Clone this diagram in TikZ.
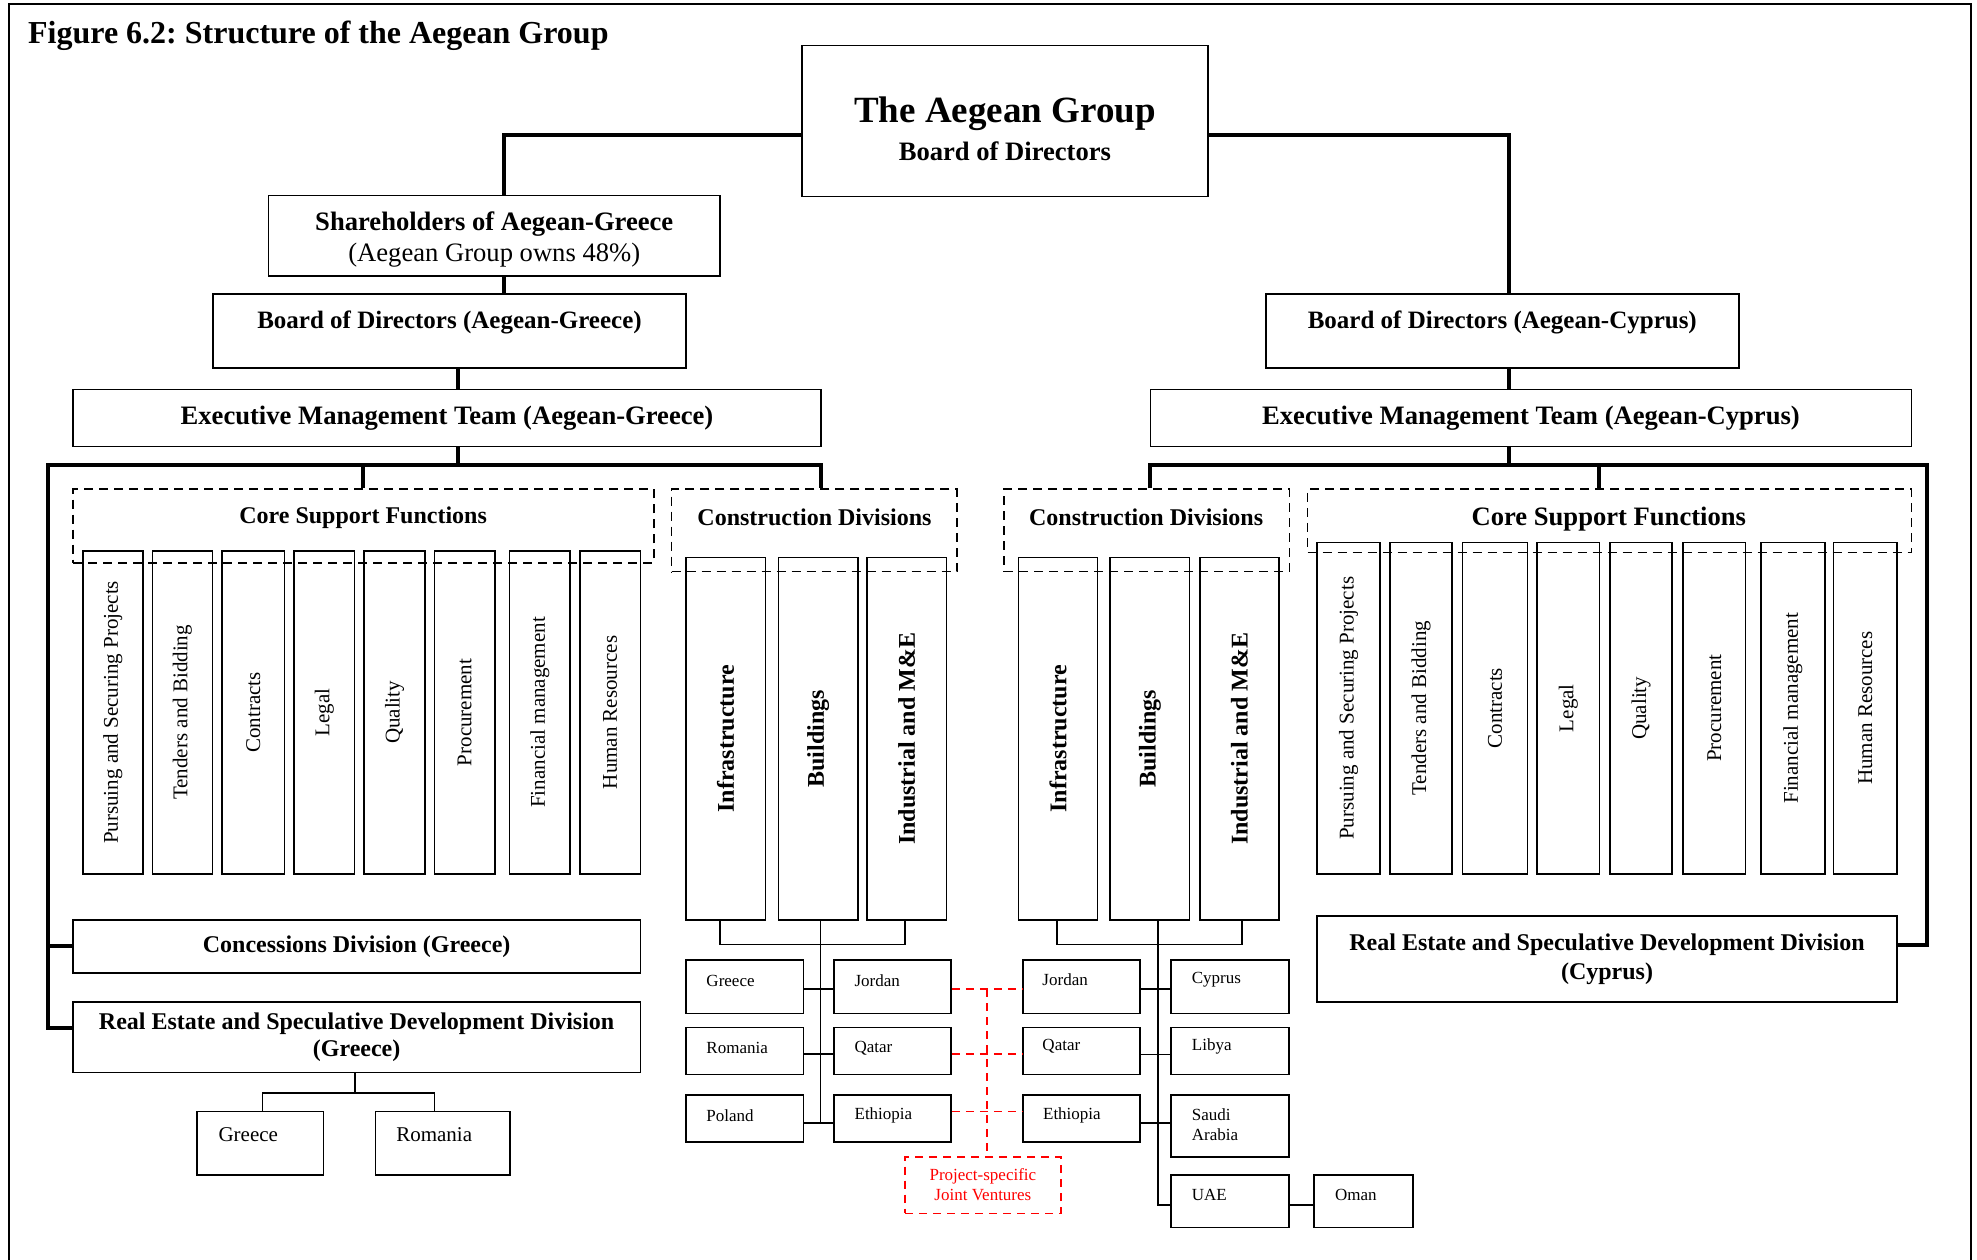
\documentclass[tikz,border=0pt]{standalone}
\usepackage{fontspec}
\setmainfont{Liberation Serif}
\usepackage{graphicx}
\frenchspacing
\newcommand\bx[7]{\node[#6, minimum width={(#4-#2)*0.6304pt}, minimum height={(#5-#3)*0.6304pt}] (#1) at ({(#2+#4)/2},{(#3+#5)/2}) {#7};}
\begin{document}
\begin{tikzpicture}[x=0.6304pt,y=-0.6304pt,
  box/.style={draw, line width=0.8pt, inner sep=0pt, align=center},
  dbox/.style={draw, line width=0.8pt, dash pattern=on 4.5pt off 3pt, inner sep=0pt},
  vbox/.style={box, font=\fontsize{10.5}{12}\selectfont},
  cbox/.style={box, font=\fontsize{12}{14}\selectfont\bfseries},
  jvbox/.style={draw=red, text=red, line width=0.8pt, dash pattern=on 4pt off 3pt, inner sep=0pt, align=center, font=\fontsize{8.5}{10}\selectfont},
  thk/.style={line width=2pt},
  thn/.style={line width=0.75pt},
  jvline/.style={red, line width=0.8pt, dash pattern=on 4pt off 3pt},
  ctxt/.style={anchor=west, inner sep=0pt, font=\fontsize{8.5}{10}\selectfont, align=left},
  stxt/.style={anchor=west, inner sep=0pt, font=\fontsize{10.5}{12}\selectfont},
  hd/.style={inner sep=0pt, font=\fontsize{12}{14}\selectfont\bfseries},
]
\useasboundingbox (0,0) rectangle (1568,999);
% frame
\draw[line width=1pt] (7,999) -- (7,3) -- (1563,3) -- (1563,999);

\node[anchor=west, inner sep=0pt, font=\fontsize{16}{19}\selectfont\bfseries] (title) at (22,28.5) {Figure 6.2: Structure of the Aegean Group};

% top
\bx{top}{636}{36}{958}{156}{box}{}
\node[inner sep=0pt, font=\fontsize{18.5}{22}\selectfont\bfseries] (topa) at (797,90) {The Aegean Group};
\node[inner sep=0pt, font=\fontsize{13.3}{16}\selectfont\bfseries] (topb) at (797,120) {Board of Directors};

% Greece side
\bx{sh}{213}{155}{571}{219}{box}{}
\node[inner sep=0pt, align=center, font=\fontsize{13.3}{15.1}\selectfont] (sht) at (392,190) {\textbf{Shareholders of Aegean-Greece}\\(Aegean Group owns 48\%)};
\bx{bgr}{169}{233}{544}{292}{box}{}
\node[inner sep=0pt, font=\fontsize{12.5}{15}\selectfont\bfseries] (bgrt) at (356.5,255.5) {Board of Directors (Aegean-Greece)};
\bx{emtgr}{58}{309}{651}{354}{box,font=\fontsize{13.3}{15}\selectfont\bfseries}{Executive Management Team (Aegean-Greece)}

% Cyprus side
\bx{bcy}{1004}{233}{1379}{292}{box}{}
\node[inner sep=0pt, font=\fontsize{12.5}{15}\selectfont\bfseries] (bcyt) at (1191.5,255.5) {Board of Directors (Aegean-Cyprus)};
\bx{emtcy}{912.5}{309}{1516}{354}{box,font=\fontsize{13.3}{15}\selectfont\bfseries}{Executive Management Team (Aegean-Cyprus)}

% dashed groups
\bx{csfL}{58}{388}{518.5}{446.3}{dbox}{}
\node[hd] (csfLt) at (288,410.5) {Core Support Functions};
\bx{cdL}{532.7}{388}{758.8}{453.4}{dbox}{}
\node[hd] (cdLt) at (646,410) {Construction Divisions};
\bx{cdR}{796.3}{388}{1022.6}{453.4}{dbox}{}
\node[hd] (cdRt) at (909,410) {Construction Divisions};
\bx{csfR}{1037}{388}{1516}{438.3}{dbox}{}
\node[inner sep=0pt, font=\fontsize{13.3}{15}\selectfont\bfseries] (csfRt) at (1276,412) {Core Support Functions};

% core support boxes left
\bx{sL1}{65.7}{437}{113.3}{693}{vbox}{\rotatebox{90}{Pursuing and Securing Projects}}
\bx{sL2}{120.9}{437}{168.5}{693}{vbox}{\rotatebox{90}{Tenders and Bidding}}
\bx{sL3}{176}{437}{225.6}{693}{vbox}{\rotatebox{90}{Contracts}}
\bx{sL4}{233.2}{437}{281.3}{693}{vbox}{\rotatebox{90}{Legal}}
\bx{sL5}{288.9}{437}{336.9}{693}{vbox}{\rotatebox{90}{Quality}}
\bx{sL6}{344.5}{437}{392.6}{693}{vbox}{\rotatebox{90}{Procurement}}
\bx{sL7}{404.2}{437}{452.2}{693}{vbox}{\rotatebox{90}{Financial management}}
\bx{sL8}{459.8}{437}{507.9}{693}{vbox}{\rotatebox{90}{Human Resources}}
% core support boxes right
\bx{sR1}{1044.6}{430.4}{1094.6}{693}{vbox}{\rotatebox{90}{Pursuing and Securing Projects}}
\bx{sR2}{1102.2}{430.4}{1151.8}{693}{vbox}{\rotatebox{90}{Tenders and Bidding}}
\bx{sR3}{1160}{430.4}{1211.5}{693}{vbox}{\rotatebox{90}{Contracts}}
\bx{sR4}{1219}{430.4}{1268.6}{693}{vbox}{\rotatebox{90}{Legal}}
\bx{sR5}{1276.7}{430.4}{1326.3}{693}{vbox}{\rotatebox{90}{Quality}}
\bx{sR6}{1334.9}{430.4}{1384.5}{693}{vbox}{\rotatebox{90}{Procurement}}
\bx{sR7}{1396.6}{430.4}{1447.2}{693}{vbox}{\rotatebox{90}{Financial management}}
\bx{sR8}{1454.3}{430.4}{1504.4}{693}{vbox}{\rotatebox{90}{Human Resources}}

% construction boxes
\bx{infL}{544.1}{442.3}{607}{729.7}{cbox}{\rotatebox{90}{Infrastructure}}
\bx{bldL}{617.3}{442.3}{680.4}{729.7}{cbox}{\rotatebox{90}{Buildings}}
\bx{indL}{687.4}{442.3}{750.8}{729.7}{cbox}{\rotatebox{90}{Industrial and M\&E}}
\bx{infR}{807.9}{442.3}{870.6}{729.7}{cbox}{\rotatebox{90}{Infrastructure}}
\bx{bldR}{880.4}{442.3}{943.5}{729.7}{cbox}{\rotatebox{90}{Buildings}}
\bx{indR}{951.5}{442.3}{1014.4}{729.7}{cbox}{\rotatebox{90}{Industrial and M\&E}}

% divisions
\bx{conc}{57.7}{729.7}{508}{771.5}{box,font=\fontsize{12}{14}\selectfont\bfseries}{Concessions Division (Greece)}
\bx{regr}{57.7}{794.5}{508}{850.5}{box,font=\fontsize{12}{13.2}\selectfont\bfseries}{Real Estate and Speculative Development Division\\(Greece)}
\bx{recy}{1044.5}{726.5}{1504.6}{794.5}{box,font=\fontsize{12}{14.5}\selectfont\bfseries}{Real Estate and Speculative Development Division\\(Cyprus)}

% real estate Greece sub
\bx{sgr}{156.4}{881.7}{256.7}{932}{box}{}
\node[stxt] (sgrt) at (173,900) {Greece};
\bx{srom}{297.8}{881.7}{404.7}{932}{box}{}
\node[stxt] (sromt) at (314,900) {Romania};

% country boxes
\bx{cgL1}{543.9}{761.4}{637.4}{803.7}{box}{}
\node[ctxt] (t1) at (560,778) {Greece};
\bx{cgL2}{543.9}{814.8}{637.4}{852.1}{box}{}
\node[ctxt] (t2) at (560,831) {Romania};
\bx{cgL3}{543.9}{868.5}{637.4}{905.5}{box}{}
\node[ctxt] (t3) at (560,885) {Poland};
\bx{cjL}{661.6}{761.4}{754.3}{803.7}{box}{}
\node[ctxt] (t4) at (677.5,778) {Jordan};
\bx{cqL}{661.6}{814.8}{754.3}{852.1}{box}{}
\node[ctxt] (t5) at (677.5,831) {Qatar};
\bx{ceL}{661.6}{868.5}{754.3}{905.5}{box}{}
\node[ctxt] (t6) at (677.5,885) {Ethiopia};
\bx{cjR}{811.4}{761.4}{904}{803.7}{box}{}
\node[ctxt] (t7) at (826.5,777) {Jordan};
\bx{cqR}{811.4}{814.8}{904}{852.1}{box}{}
\node[ctxt] (t8) at (826.5,830) {Qatar};
\bx{ceR}{811.4}{868.5}{904}{905.5}{box}{}
\node[ctxt] (t9) at (827,885) {Ethiopia};
\bx{ccy}{928.7}{761.4}{1022.2}{803.7}{box}{}
\node[ctxt] (t10) at (945,777) {Cyprus};
\bx{cly}{928.7}{814.8}{1022.2}{852.1}{box}{}
\node[ctxt] (t11) at (945,830) {Libya};
\bx{csa}{928.7}{868.5}{1022.2}{917.4}{box}{}
\node[ctxt] (t12) at (945,892) {Saudi\\Arabia};
\bx{cua}{928.7}{932}{1022.2}{973.7}{box}{}
\node[ctxt] (t13) at (945,948) {UAE};
\bx{com}{1042}{932}{1120.6}{973.7}{box}{}
\node[ctxt] (t14) at (1058.5,948) {Oman};

% joint ventures
\bx{jv}{717.8}{917.4}{841.3}{962.4}{jvbox}{Project-specific\\Joint Ventures}

% ---- connectors
\coordinate (jL) at (400,107);
\coordinate (jR) at (1197,107);
\coordinate (cG) at (363,369);
\coordinate (cC) at (1197,369);
\coordinate (bL) at (38,369);
\coordinate (bLb) at (38,815.5);
\coordinate (bR) at (651,369);
\coordinate (bR2) at (912.4,369);
\coordinate (bRR) at (1528.6,369);
\coordinate (bRRb) at (1528.6,749.5);
\coordinate (dR) at (1268.3,369);

\draw[thk] (jL -| top.west) -- (jL) -- (jL |- sh.north);
\draw[thk] (jR -| top.east) -- (jR) -- (jR |- bcy.north);
\draw[thk] (jL |- sh.south) -- (jL |- bgr.north);
\draw[thk] (cG |- bgr.south) -- (cG |- emtgr.north);
\draw[thk] (cG |- emtgr.south) -- (cG);
\draw[thk] (bLb -| regr.west) -- (bLb) -- (bL) -- (bR) -- (bR |- cdL.north);
\draw[thk] (conc.west) -- (conc.west -| bL);
\draw[thk] (csfL.north |- bL) -- (csfL.north);
\draw[thk] (cC |- bcy.south) -- (cC |- emtcy.north);
\draw[thk] (cC |- emtcy.south) -- (cC);
\draw[thk] (bR2 |- cdR.north) -- (bR2) -- (bRR) -- (bRRb) -- (bRRb -| recy.east);
\draw[thk] (dR) -- (dR |- csfR.north);

% real estate Greece subtree
\coordinate (rg) at (281.5,867);
\coordinate (rgl) at (208,867);
\coordinate (rgr) at (344.5,867);
\draw[thn] (rg |- regr.south) -- (rg);
\draw[thn] (rgl |- sgr.north) -- (rgl) -- (rgr) -- (rgr |- srom.north);

% construction trees left
\coordinate (kL1) at (571,749);
\coordinate (kL2) at (650.7,749);
\coordinate (kL3) at (717.8,749);
\coordinate (rL1) at (650.7,784.4);
\coordinate (rL2) at (650.7,836);
\coordinate (rL3) at (650.7,890.5);
\draw[thn] (kL1 |- infL.south) -- (kL1) -- (kL3) -- (kL3 |- indL.south);
\draw[thn] (kL2 |- bldL.south) -- (rL3);
\draw[thn] (rL1 -| cgL1.east) -- (rL1 -| cjL.west);
\draw[thn] (rL2 -| cgL2.east) -- (rL2 -| cqL.west);
\draw[thn] (rL3 -| cgL3.east) -- (rL3 -| ceL.west);

% construction trees right
\coordinate (kR1) at (838.4,749);
\coordinate (kR2) at (918.6,749);
\coordinate (kR3) at (985,749);
\coordinate (rR1) at (918.6,784.4);
\coordinate (rR2) at (918.6,836.3);
\coordinate (rR3) at (918.6,890.5);
\coordinate (rU) at (918.6,955.7);
\draw[thn] (kR1 |- infR.south) -- (kR1) -- (kR3) -- (kR3 |- indR.south);
\draw[thn] (kR2 |- bldR.south) -- (rU) -- (rU -| cua.west);
\draw[thn] (rR1 -| cjR.east) -- (rR1 -| ccy.west);
\draw[thn] (rR2 -| cqR.east) -- (rR2 -| cly.west);
\draw[thn] (rR3 -| ceR.east) -- (rR3 -| csa.west);
\draw[thn] (rU -| cua.east) -- (rU -| com.west);

% joint venture links
\coordinate (jv1) at (782.6,784.4);
\coordinate (jv2) at (782.6,836);
\coordinate (jv3) at (782.6,881.7);
\draw[jvline] (jv1 -| cjL.east) -- (jv1 -| cjR.west);
\draw[jvline] (jv2 -| cqL.east) -- (jv2 -| cqR.west);
\draw[jvline] (jv3 -| ceL.east) -- (jv3 -| ceR.west);
\draw[jvline] (jv1) -- (jv1 |- jv.north);
\end{tikzpicture}
\end{document}
